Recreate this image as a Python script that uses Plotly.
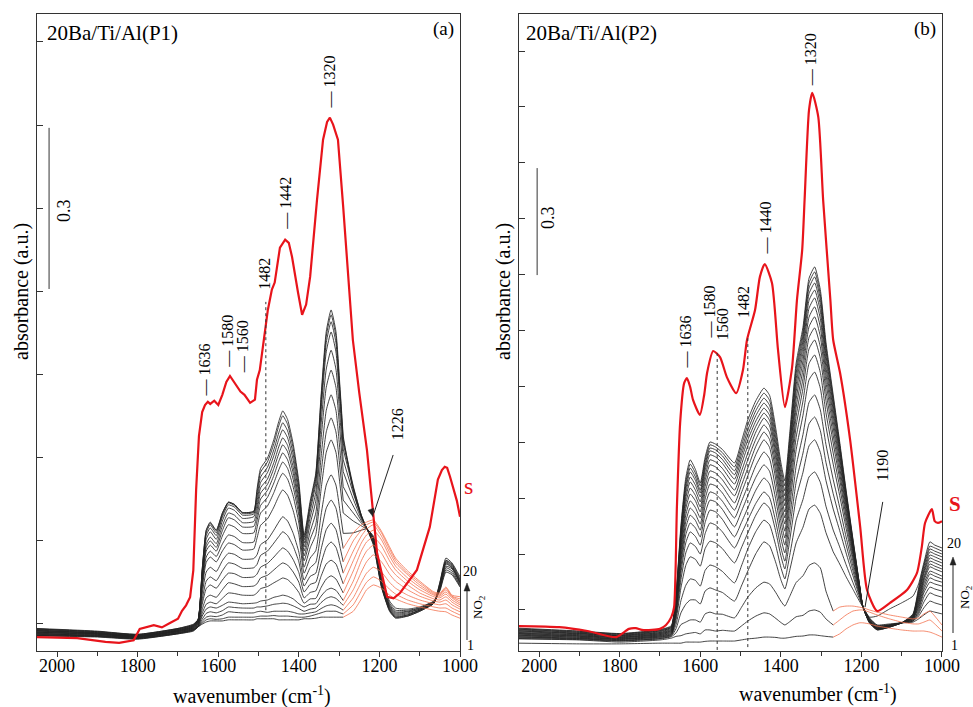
import plotly.graph_objects as go

# ---------------- Panel (a): 20Ba/Ti/Al(P1) ----------------
WN_A_MAIN = [2050, 1900, 1800, 1700, 1662, 1650, 1640, 1630, 1620, 1605, 1590, 1575, 1560, 1540, 1512,
             1504, 1495, 1478, 1462, 1450, 1440, 1428, 1414, 1400, 1387, 1372, 1358, 1345, 1332, 1320,
             1308, 1298, 1290]
# absorbance of spectra 1..20 (2050-1290 cm-1)
ABS_A_MAIN = [
    [.028,.026,.022,.032,.037,.045,.050,.054,.056,.056,.056,.058,.058,.058,.058,.060,.060,.060,.060,.058,.058,.058,.058,.058,.060,.060,.061,.063,.063,.063,.063,.063,.063],
    [.029,.027,.023,.032,.038,.045,.052,.058,.060,.059,.060,.063,.063,.063,.063,.064,.065,.065,.066,.065,.065,.065,.064,.063,.063,.065,.068,.071,.074,.074,.074,.071,.069],
    [.029,.027,.023,.033,.039,.045,.055,.063,.065,.064,.067,.073,.072,.071,.071,.073,.074,.072,.074,.074,.074,.074,.072,.069,.069,.071,.073,.079,.084,.086,.084,.080,.076],
    [.030,.028,.024,.033,.039,.046,.059,.070,.073,.071,.075,.082,.081,.080,.080,.082,.082,.084,.087,.088,.089,.088,.084,.079,.074,.078,.080,.090,.098,.101,.098,.091,.085],
    [.031,.028,.024,.034,.040,.047,.065,.078,.082,.080,.085,.091,.090,.088,.089,.090,.093,.095,.100,.102,.104,.102,.097,.088,.082,.087,.088,.102,.113,.117,.113,.103,.094],
    [.032,.029,.025,.034,.040,.047,.070,.087,.091,.088,.098,.108,.107,.104,.104,.108,.116,.120,.127,.132,.136,.133,.123,.109,.089,.097,.098,.118,.134,.140,.134,.120,.108],
    [.032,.029,.025,.035,.041,.049,.077,.099,.104,.100,.114,.127,.125,.120,.121,.125,.136,.141,.151,.159,.164,.160,.147,.128,.099,.109,.112,.139,.162,.169,.162,.142,.125],
    [.033,.030,.026,.036,.042,.050,.087,.116,.123,.117,.132,.145,.144,.137,.138,.143,.156,.163,.175,.185,.192,.186,.170,.146,.110,.124,.128,.163,.193,.203,.193,.168,.145],
    [.034,.031,.026,.036,.042,.051,.095,.130,.138,.131,.149,.164,.162,.154,.155,.161,.178,.186,.201,.213,.222,.215,.195,.166,.121,.139,.145,.189,.226,.238,.226,.194,.166],
    [.035,.031,.027,.037,.043,.053,.106,.147,.156,.148,.168,.182,.180,.171,.172,.179,.198,.207,.225,.240,.250,.242,.219,.184,.132,.155,.165,.220,.266,.281,.266,.226,.191],
    [.035,.032,.027,.037,.044,.054,.116,.165,.175,.166,.186,.201,.198,.188,.190,.210,.234,.246,.268,.288,.300,.290,.261,.217,.145,.173,.187,.253,.309,.328,.309,.261,.219],
    [.036,.032,.027,.038,.044,.055,.122,.175,.186,.176,.199,.216,.213,.202,.203,.229,.257,.270,.295,.318,.331,.320,.288,.238,.156,.192,.217,.300,.370,.393,.370,.310,.257],
    [.037,.033,.028,.038,.045,.056,.128,.186,.197,.186,.214,.235,.231,.219,.220,.242,.271,.286,.313,.337,.352,.340,.305,.252,.168,.208,.236,.330,.408,.434,.408,.341,.281],
    [.038,.033,.028,.039,.046,.057,.132,.193,.205,.193,.224,.248,.244,.231,.232,.252,.283,.299,.327,.353,.369,.356,.319,.263,.177,.222,.257,.360,.448,.477,.448,.373,.306],
    [.038,.034,.029,.039,.046,.057,.136,.199,.212,.200,.233,.257,.253,.239,.241,.262,.294,.310,.340,.367,.384,.371,.331,.273,.186,.237,.279,.394,.491,.523,.491,.408,.334],
    [.039,.034,.029,.040,.047,.058,.142,.208,.222,.208,.242,.266,.262,.247,.250,.270,.304,.320,.351,.380,.397,.383,.342,.281,.194,.249,.296,.421,.525,.560,.525,.436,.356],
    [.040,.035,.030,.041,.048,.058,.146,.215,.229,.215,.249,.272,.268,.253,.255,.279,.314,.332,.364,.394,.412,.397,.355,.291,.201,.260,.312,.445,.557,.594,.557,.461,.376],
    [.041,.036,.030,.041,.048,.059,.149,.220,.235,.220,.253,.276,.271,.256,.258,.287,.324,.342,.375,.406,.425,.410,.366,.300,.207,.268,.320,.458,.574,.613,.574,.475,.387],
    [.041,.036,.031,.042,.049,.059,.151,.224,.238,.224,.256,.277,.273,.258,.260,.295,.333,.352,.386,.419,.438,.422,.377,.308,.212,.274,.327,.468,.586,.626,.586,.485,.394],
    [.042,.037,.031,.042,.050,.059,.152,.225,.240,.225,.257,.277,.273,.258,.260,.301,.340,.359,.394,.427,.447,.431,.385,.315,.216,.279,.331,.474,.595,.635,.595,.492,.400],
]
WN_A_TAIL = [1290, 1265, 1245, 1232, 1215, 1195, 1175, 1160, 1130, 1100, 1065, 1050, 1035, 1020, 1000]
# spectra 1..10 (orange part, 1290-1000 cm-1)
ABS_A_TAIL_EARLY = [
    [.063,.074,.097,.114,.123,.117,.104,.097,.088,.082,.076,.074,.073,.067,.061],
    [.069,.086,.112,.128,.138,.130,.115,.106,.095,.088,.082,.080,.080,.074,.067],
    [.076,.099,.128,.145,.156,.147,.128,.117,.104,.095,.088,.086,.088,.080,.073],
    [.085,.114,.147,.166,.179,.166,.143,.130,.114,.102,.093,.091,.095,.086,.078],
    [.094,.130,.168,.186,.197,.182,.156,.142,.123,.108,.097,.095,.101,.091,.082],
    [.108,.149,.186,.203,.212,.196,.168,.151,.130,.114,.101,.099,.106,.095,.086],
    [.125,.168,.201,.216,.225,.207,.177,.158,.136,.119,.104,.102,.110,.099,.089],
    [.145,.186,.214,.227,.235,.214,.184,.164,.142,.123,.106,.104,.114,.101,.093],
    [.166,.205,.225,.235,.240,.220,.190,.169,.145,.127,.108,.106,.117,.102,.097],
    [.191,.220,.235,.240,.244,.223,.194,.173,.149,.130,.110,.108,.119,.104,.101],
]
# spectra 11..20 (black part, 1290-1000 cm-1)
ABS_A_TAIL_LATE = [
    [.219,.220,.225,.227,.214,.140,.093,.080,.078,.082,.093,.112,.147,.142,.119],
    [.257,.242,.233,.227,.212,.136,.089,.076,.076,.080,.093,.114,.151,.145,.121],
    [.281,.257,.238,.229,.210,.132,.086,.073,.074,.080,.091,.115,.155,.149,.123],
    [.306,.270,.242,.229,.209,.128,.084,.071,.073,.078,.091,.117,.158,.153,.125],
    [.334,.283,.246,.229,.207,.127,.082,.069,.071,.078,.091,.119,.162,.155,.127],
    [.356,.294,.250,.229,.205,.125,.080,.067,.069,.076,.089,.121,.164,.156,.128],
    [.376,.302,.251,.229,.203,.123,.078,.065,.067,.076,.089,.123,.166,.158,.130],
    [.387,.305,.253,.229,.201,.121,.076,.063,.067,.076,.089,.125,.168,.160,.132],
    [.394,.307,.253,.229,.199,.119,.076,.063,.065,.074,.089,.127,.169,.162,.134],
    [.400,.298,.250,.229,.197,.119,.074,.061,.065,.074,.089,.128,.173,.164,.138],
]
WN_A_S = [2050, 1950, 1880, 1846, 1810, 1795, 1760, 1740, 1720, 1700, 1690, 1680, 1670, 1662, 1655, 1648,
          1640, 1633, 1626, 1620, 1610, 1600, 1590, 1580, 1571, 1565, 1560, 1552, 1545, 1535, 1521, 1509,
          1504, 1497, 1484, 1477, 1467, 1460, 1447, 1440, 1434, 1425, 1417, 1402, 1392, 1382, 1372, 1355,
          1340, 1330, 1323, 1315, 1303, 1290, 1273, 1266, 1250, 1231, 1206, 1181, 1165, 1149, 1107, 1075,
          1055, 1045, 1038, 1032, 1025, 1017, 1008, 1000]
ABS_A_S = [.026, .024, .017, .015, .020, .041, .048, .044, .052, .060, .075, .085, .100, .150, .300, .400,
           .445, .458, .464, .460, .466, .458, .477, .501, .512, .505, .501, .492, .483, .477, .462, .468,
           .505, .523, .592, .635, .673, .686, .751, .760, .766, .760, .734, .667, .626, .645, .697, .840,
           .952, .985, .993, .980, .952, .827, .654, .579, .480, .374, .183, .101, .098, .108, .151, .231,
           .319, .337, .343, .341, .325, .306, .280, .250]

# ---------------- Panel (b): 20Ba/Ti/Al(P2) ----------------
WN_B_MAIN = [2050, 1900, 1800, 1700, 1672, 1660, 1648, 1636, 1625, 1612, 1600, 1588, 1576, 1562, 1545, 1515,
             1498, 1482, 1462, 1442, 1428, 1412, 1400, 1390, 1378, 1362, 1345, 1330, 1316, 1302, 1288, 1270]
ABS_B_MAIN = [
    [.022,.020,.020,.022,.022,.022,.022,.025,.025,.025,.025,.027,.028,.028,.028,.028,.031,.034,.036,.039,.039,.038,.036,.036,.038,.041,.042,.045,.045,.043,.041,.039],
    [.034,.031,.025,.031,.036,.041,.043,.048,.050,.052,.048,.059,.059,.056,.058,.056,.070,.084,.098,.107,.104,.091,.080,.073,.082,.096,.100,.112,.115,.109,.090,.073],
    [.035,.032,.028,.034,.040,.051,.074,.081,.087,.087,.081,.104,.109,.104,.103,.093,.122,.151,.177,.193,.188,.163,.140,.126,.153,.192,.211,.240,.247,.233,.168,.112],
    [.037,.034,.029,.035,.042,.063,.107,.131,.143,.143,.132,.168,.177,.171,.164,.140,.182,.224,.273,.306,.295,.246,.200,.174,.226,.303,.347,.398,.409,.386,.332,.278],
    [.039,.035,.030,.037,.044,.075,.141,.184,.202,.198,.182,.226,.241,.236,.223,.191,.238,.286,.335,.367,.354,.293,.235,.202,.268,.367,.425,.488,.502,.473,.406,.339],
    [.040,.036,.032,.039,.046,.088,.177,.240,.264,.257,.238,.287,.308,.303,.287,.247,.289,.331,.381,.415,.400,.332,.267,.230,.310,.429,.501,.575,.592,.557,.478,.398],
    [.042,.038,.033,.040,.047,.097,.200,.275,.303,.293,.272,.329,.359,.353,.334,.289,.328,.367,.414,.446,.430,.359,.291,.252,.341,.474,.555,.637,.656,.618,.529,.441],
    [.044,.039,.034,.042,.049,.105,.219,.303,.334,.321,.297,.360,.395,.390,.369,.320,.360,.401,.451,.485,.468,.390,.317,.275,.372,.518,.607,.697,.718,.676,.579,.481],
    [.045,.041,.035,.043,.051,.111,.235,.326,.359,.345,.320,.386,.423,.418,.397,.348,.391,.435,.487,.522,.504,.421,.342,.297,.404,.564,.661,.760,.782,.737,.630,.524],
    [.047,.042,.037,.045,.053,.117,.249,.346,.381,.366,.339,.407,.446,.440,.420,.373,.418,.463,.520,.558,.539,.449,.365,.317,.430,.599,.701,.806,.830,.781,.668,.555],
    [.049,.043,.038,.046,.055,.122,.261,.363,.401,.384,.356,.426,.468,.463,.443,.395,.443,.491,.551,.592,.571,.477,.388,.336,.454,.631,.736,.847,.872,.821,.702,.583],
    [.050,.045,.039,.048,.057,.128,.274,.381,.421,.402,.373,.444,.488,.482,.462,.415,.464,.513,.574,.614,.593,.498,.408,.356,.477,.658,.764,.879,.906,.853,.729,.605],
    [.052,.046,.040,.049,.058,.133,.287,.399,.440,.421,.390,.461,.505,.499,.480,.435,.485,.536,.594,.634,.613,.516,.425,.373,.497,.683,.790,.909,.937,.882,.754,.626],
    [.054,.048,.042,.051,.060,.138,.298,.414,.457,.436,.404,.477,.522,.516,.497,.451,.503,.555,.614,.653,.632,.535,.442,.390,.516,.706,.814,.936,.965,.908,.776,.644],
    [.056,.049,.043,.052,.062,.143,.309,.429,.474,.451,.418,.491,.536,.530,.512,.468,.522,.575,.630,.667,.647,.550,.459,.407,.535,.727,.835,.961,.990,.932,.796,.661],
    [.057,.050,.044,.054,.064,.147,.318,.442,.488,.465,.432,.505,.550,.544,.526,.482,.537,.592,.645,.681,.661,.564,.473,.421,.551,.746,.854,.983,1.012,.953,.814,.676],
    [.059,.052,.045,.056,.066,.151,.328,.454,.502,.478,.443,.516,.561,.555,.537,.494,.550,.606,.660,.695,.675,.578,.487,.435,.566,.763,.870,1.002,1.032,.971,.830,.689],
    [.061,.053,.047,.057,.067,.155,.336,.464,.513,.488,.451,.524,.569,.564,.547,.505,.562,.620,.674,.709,.689,.592,.501,.449,.581,.779,.884,1.018,1.049,.987,.843,.700],
    [.062,.055,.048,.059,.069,.159,.344,.474,.524,.499,.463,.534,.578,.572,.556,.516,.575,.634,.688,.723,.703,.606,.515,.463,.595,.793,.896,1.032,1.063,1.000,.855,.709],
    [.064,.056,.049,.060,.071,.163,.352,.485,.536,.509,.471,.543,.586,.580,.565,.527,.587,.648,.702,.737,.717,.620,.529,.477,.609,.807,.908,1.045,1.077,1.013,.866,.718],
]
WN_B_TAIL = [1270, 1254, 1238, 1221, 1205, 1196, 1180, 1161, 1130, 1100, 1072, 1058, 1045, 1030, 1018, 1000]
ABS_B_TAIL_EARLY = [
    [.039,.048,.062,.073,.079,.079,.076,.070,.064,.059,.056,.056,.056,.053,.048,.039],
    [.073,.087,.101,.112,.115,.115,.109,.101,.090,.081,.076,.076,.081,.087,.076,.056],
    [.112,.123,.126,.126,.123,.121,.115,.109,.101,.095,.090,.093,.104,.112,.098,.073],
]
ABS_B_TAIL_LATE = [
    [.278,.244,.208,.173,.140,.123,.093,.073,.076,.079,.081,.090,.101,.112,.109,.104],
    [.339,.292,.242,.192,.147,.123,.091,.072,.074,.079,.084,.098,.121,.140,.135,.129],
    [.398,.338,.275,.211,.154,.123,.090,.070,.073,.079,.084,.104,.137,.163,.157,.151],
    [.441,.371,.298,.225,.158,.123,.088,.069,.073,.079,.087,.109,.151,.179,.174,.168],
    [.481,.403,.320,.238,.163,.123,.087,.067,.072,.079,.087,.115,.163,.193,.188,.182],
    [.524,.436,.344,.252,.167,.123,.086,.066,.072,.079,.090,.121,.171,.205,.199,.193],
    [.555,.460,.361,.262,.171,.123,.084,.064,.070,.079,.090,.126,.179,.216,.210,.202],
    [.583,.482,.376,.271,.174,.123,.084,.064,.070,.079,.093,.132,.188,.224,.219,.210],
    [.605,.499,.388,.278,.176,.123,.083,.063,.070,.079,.093,.137,.196,.236,.230,.222],
    [.626,.515,.400,.284,.179,.123,.083,.063,.070,.079,.095,.143,.202,.244,.238,.230],
    [.644,.530,.410,.290,.181,.123,.081,.062,.069,.079,.095,.149,.207,.252,.247,.238],
    [.661,.543,.419,.295,.183,.123,.081,.062,.069,.079,.098,.154,.216,.261,.255,.247],
    [.676,.554,.427,.300,.184,.123,.080,.062,.069,.079,.098,.160,.222,.269,.264,.255],
    [.689,.564,.434,.304,.186,.123,.080,.060,.067,.079,.101,.165,.227,.278,.272,.264],
    [.700,.573,.441,.308,.187,.123,.079,.060,.067,.079,.101,.171,.236,.286,.280,.272],
    [.709,.580,.446,.311,.188,.123,.079,.059,.067,.079,.104,.177,.241,.294,.289,.280],
    [.718,.587,.451,.314,.189,.123,.095,.098,.118,.135,.154,.188,.247,.306,.297,.289],
]
WN_B_S = [2050, 1950, 1880, 1809, 1777, 1760, 1745, 1720, 1700, 1685, 1672, 1665, 1658, 1650, 1640, 1633,
          1625, 1618, 1601, 1590, 1583, 1568, 1551, 1534, 1511, 1494, 1484, 1464, 1452, 1440, 1422, 1407,
          1390, 1372, 1360, 1347, 1341, 1330, 1322, 1307, 1295, 1277, 1270, 1253, 1228, 1203, 1186, 1161,
          1129, 1087, 1062, 1050, 1042, 1025, 1018, 1010, 1000]
ABS_B_S = [.070, .067, .056, .039, .062, .064, .059, .059, .062, .073, .095, .123, .404, .639, .751, .765,
           .740, .704, .662, .720, .780, .841, .824, .768, .723, .788, .872, .956, 1.049, 1.085, 1.032, .844,
           .684, .796, .984, 1.124, 1.265, 1.517, 1.565, 1.497, 1.265, .984, .872, .780, .592, .348, .171, .112,
           .135, .171, .219, .292, .359, .398, .364, .359, .364]

# band labels: (text, wavenumber, absorbance at label foot)
LABELS_A = [("— 1636", 1633, .471), ("— 1580", 1578, .523), ("— 1560", 1539, .514), ("1482", 1484, .669),
            ("— 1442", 1434, .780), ("— 1320", 1323, 1.007), ("1226", 1156, .389)]
LABELS_B = [("— 1636", 1638, .788), ("— 1580", 1576, .872), ("1560", 1546, .866), ("1482", 1494, .928),
            ("— 1440", 1439, 1.105), ("— 1320", 1328, 1.579), ("1190", 1147, .471)]

BLACK = "#222222"
ORANGE = "#f2704c"
RED = "#e8141b"
FONT = "Liberation Serif"
W, H = 973, 707

fig = go.Figure()


def add_panel(xa, ya, wn_main, main_rows, wn_tail, early_rows, late_rows, wn_s, s_vals, s_shape):
    for row in main_rows:
        fig.add_trace(go.Scatter(x=wn_main, y=row, mode="lines", xaxis=xa, yaxis=ya,
                                 line=dict(color=BLACK, width=0.85, shape="spline", smoothing=0.5),
                                 hoverinfo="skip", showlegend=False))
    for row in late_rows:
        fig.add_trace(go.Scatter(x=wn_tail, y=row, mode="lines", xaxis=xa, yaxis=ya,
                                 line=dict(color=BLACK, width=0.85, shape="spline", smoothing=0.5),
                                 hoverinfo="skip", showlegend=False))
    for row in early_rows:
        fig.add_trace(go.Scatter(x=wn_tail, y=row, mode="lines", xaxis=xa, yaxis=ya,
                                 line=dict(color=ORANGE, width=0.8, shape="spline", smoothing=0.5),
                                 hoverinfo="skip", showlegend=False))
    fig.add_trace(go.Scatter(x=wn_s, y=s_vals, mode="lines", xaxis=xa, yaxis=ya,
                             line=dict(color=RED, width=2.2, shape=s_shape, smoothing=0.6),
                             hoverinfo="skip", showlegend=False))


add_panel("x", "y", WN_A_MAIN, ABS_A_MAIN, WN_A_TAIL, ABS_A_TAIL_EARLY, ABS_A_TAIL_LATE, WN_A_S, ABS_A_S, "linear")
add_panel("x2", "y2", WN_B_MAIN, ABS_B_MAIN, WN_B_TAIL, ABS_B_TAIL_EARLY, ABS_B_TAIL_LATE, WN_B_S, ABS_B_S, "spline")

xcommon = dict(range=[2050, 1000], tick0=1000, dtick=200, ticks="outside", ticklen=5, tickwidth=1,
               tickcolor="#333", showline=True, mirror=True, linecolor="#333", linewidth=1,
               showgrid=False, zeroline=False, automargin=False, ticklabelstandoff=-7,
               tickfont=dict(family=FONT, size=18, color="black"),
               minor=dict(dtick=100, ticks="outside", ticklen=4, tickcolor="#333"))
ycommon = dict(showticklabels=False, ticks="inside", ticklen=6, tickwidth=1, tickcolor="#333",
               showline=True, mirror=True, linecolor="#333", linewidth=1, showgrid=False,
               zeroline=False, automargin=False)

fig.update_layout(
    width=W, height=H, autosize=False,
    margin=dict(l=0, r=0, t=0, b=0, pad=0),
    paper_bgcolor="white", plot_bgcolor="white",
    xaxis=dict(domain=[0.0380, 0.4728], anchor="y", **xcommon),
    yaxis=dict(domain=[0.0792, 0.9802], anchor="x", range=[0, 1.186], tick0=0.0503, dtick=0.1548, **ycommon),
    xaxis2=dict(domain=[0.5334, 0.9681], anchor="y2", **xcommon),
    yaxis2=dict(domain=[0.0792, 0.9802], anchor="x2", range=[0, 1.786], tick0=0.115, dtick=0.1567, **ycommon),
    font=dict(family=FONT, color="black"),
)


def px(xp, yp):
    return xp / W, 1 - yp / H


# dotted guide lines and scale bars
shapes = [
    dict(type="line", xref="x", yref="y", x0=1482, x1=1482, y0=.076, y1=.650,
         line=dict(color="#333", width=1, dash="dot")),
    dict(type="line", xref="x2", yref="y2", x0=1558, x1=1558, y0=.003, y1=.844,
         line=dict(color="#333", width=1, dash="dot")),
    dict(type="line", xref="x2", yref="y2", x0=1482, x1=1482, y0=.011, y1=.877,
         line=dict(color="#333", width=1, dash="dot")),
    dict(type="line", xref="x", yref="y", x0=2020, x1=2020, y0=.674, y1=.974, line=dict(color="#333", width=1)),
    dict(type="line", xref="x2", yref="y2", x0=2005, x1=2005, y0=1.054, y1=1.354, line=dict(color="#333", width=1)),
    # pointer lines to the 1226 / 1190 bands
    dict(type="line", xref="x", yref="y", x0=1166, x1=1214, y0=.365, y1=.256, line=dict(color="#222", width=1)),
    dict(type="path", xref="x", yref="y", path="M 1216,.250 L 1214.3,.266 L 1228.4,.262 Z",
         fillcolor="#222", line=dict(color="#222", width=0.5)),
    dict(type="line", xref="x2", yref="y2", x0=1147, x1=1191, y0=.418, y1=.123, line=dict(color="#222", width=1)),
]
# NO2 dose arrows (outside the frames)
for xa, ytop, ybot in [(467, 583, 640), (953, 557, 633)]:
    x0, y0 = px(xa, ybot)
    x1, y1 = px(xa, ytop + 6)
    shapes.append(dict(type="line", xref="paper", yref="paper", x0=x0, x1=x1, y0=y0, y1=y1,
                       line=dict(color="#222", width=1)))
    a = px(xa, ytop)
    b = px(xa - 3, ytop + 8)
    c = px(xa + 3, ytop + 8)
    shapes.append(dict(type="path", xref="paper", yref="paper",
                       path=f"M {a[0]},{a[1]} L {b[0]},{b[1]} L {c[0]},{c[1]} Z",
                       fillcolor="#222", line=dict(color="#222", width=0.5)))
fig.update_layout(shapes=shapes)

ann = []
ann.append(dict(text="0.3", x=1983, y=.821, xref="x", yref="y", textangle=-90, showarrow=False,
                xanchor="center", yanchor="middle", font=dict(size=18)))
ann.append(dict(text="0.3", x=1978, y=1.217, xref="x2", yref="y2", textangle=-90, showarrow=False,
                xanchor="center", yanchor="middle", font=dict(size=18)))
for txt, wn, a in LABELS_A:
    ann.append(dict(text=txt, x=wn, y=a, xref="x", yref="y", textangle=-90, showarrow=False,
                    xanchor="center", yanchor="bottom", font=dict(size=16, color="black")))
for txt, wn, a in LABELS_B:
    ann.append(dict(text=txt, x=wn, y=a, xref="x2", yref="y2", textangle=-90, showarrow=False,
                    xanchor="center", yanchor="bottom", font=dict(size=16, color="black")))


def pa(text, xp, yp, size, color="black", xanchor="center", textangle=0):
    x, y = px(xp, yp)
    return dict(text=text, x=x, y=y, xref="paper", yref="paper", showarrow=False,
                xanchor=xanchor, yanchor="middle", textangle=textangle,
                font=dict(size=size, color=color))


ann += [
    pa("20Ba/Ti/Al(P1)", 45, 33, 21, xanchor="left"),
    pa("(a)", 443, 29, 19),
    pa("20Ba/Ti/Al(P2)", 524, 33, 21, xanchor="left"),
    pa("(b)", 925, 29, 19),
    pa("absorbance (a.u.)", 21, 292, 20, textangle=-90),
    pa("absorbance (a.u.)", 503, 292, 20, textangle=-90),
    pa("wavenumber (cm<sup>-1</sup>)", 252, 695, 20),
    pa("wavenumber (cm<sup>-1</sup>)", 818, 693, 20),
    pa("s", 468, 486, 24, color=RED),
    pa("<b>S</b>", 955, 504, 21, color=RED),
    pa("20", 470, 571, 14),
    pa("1", 470, 645, 14),
    pa("20", 954, 543, 14),
    pa("1", 954, 645, 14),
    pa("NO<sub>2</sub>", 478, 607, 13, textangle=-90),
    pa("NO<sub>2</sub>", 965, 597, 13, textangle=-90),
]
fig.update_layout(annotations=ann)

fig.write_html("out.html", config={"displayModeBar": False},
               post_script="document.body.style.margin='0px';")
